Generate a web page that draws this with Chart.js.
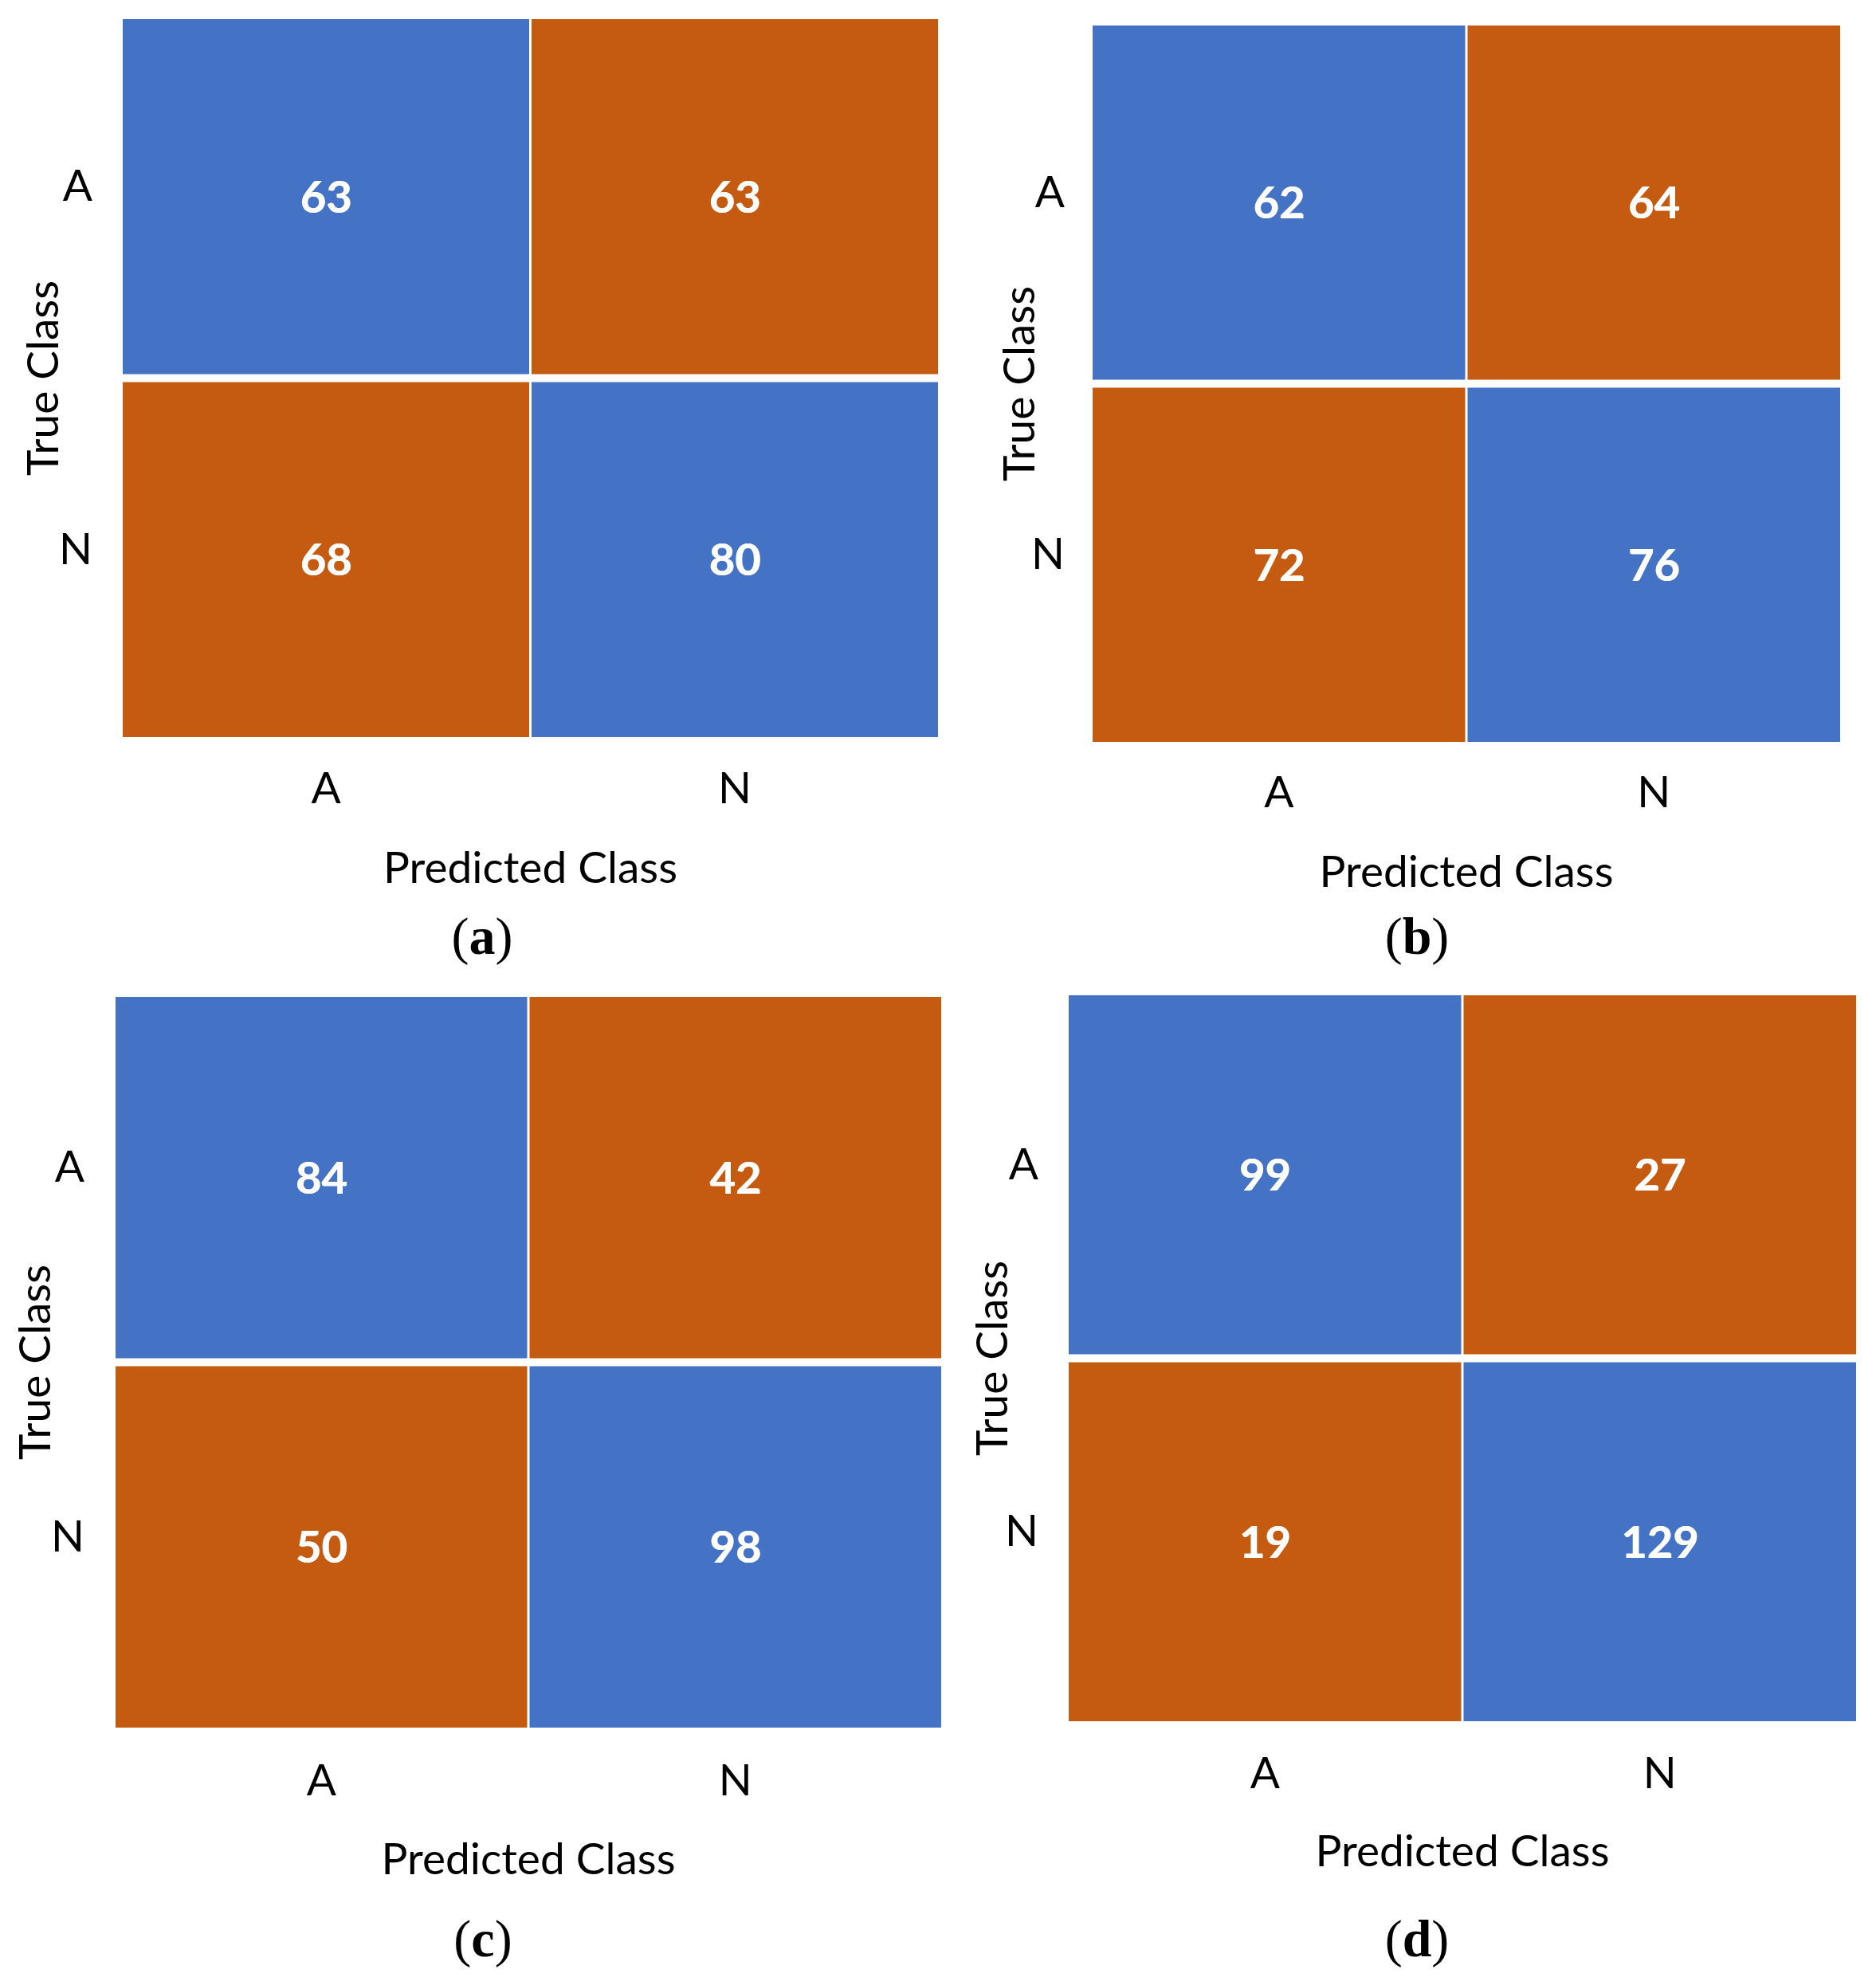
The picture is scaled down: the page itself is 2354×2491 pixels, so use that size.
<!DOCTYPE html>
<html><head><meta charset="utf-8">
<script src="https://cdn.jsdelivr.net/npm/chart.js@4.4.1/dist/chart.umd.min.js"></script>
<style>
html,body{margin:0;padding:0;background:#fff;}
body{width:2354px;height:2491px;position:relative;overflow:hidden;}
canvas{position:absolute;}
.sub{position:absolute;font-family:"Liberation Serif","Times New Roman",serif;font-size:66px;line-height:1;color:#000;transform:translateX(-50%);white-space:nowrap;}
</style></head><body>
<script>
// ---- data ----
const predictedClasses = ['A', 'N'];
const trueClasses = ['A', 'N'];
const matrixA = [[63, 63], [68, 80]];
const matrixB = [[62, 64], [72, 76]];
const matrixC = [[84, 42], [50, 98]];
const matrixD = [[99, 27], [19, 129]];
const subLetters = ['a', 'b', 'c', 'd'];
const xAxisTitle = 'Predicted Class';
const yAxisTitle = 'True Class';

// ---- style ----
const BLUE = '#4472C4';
const ORANGE = '#C55A11';
const AX_FONT = { family: 'Lato', size: 55, lineHeight: 1.2 };
const LH2 = 55 * 1.2 / 2;

// layout of each panel (canvas box + axis sizes/paddings)
const layouts = [
  { left: 0, top: 0, w: 1200, h: 1140, padTop: 19, padRight: 21.5, yw: 152.5, xh: 210, xTickMid: 990, xTitleMid: 1090, yTickPad: 36.5, yTitleMid: 55, subX: 605, subBase: 1197 },
  { left: 1200, top: 0, w: 1154, h: 1140, padTop: 27, padRight: 43.5, yw: 169.5, xh: 204, xTickMid: 995.5, xTitleMid: 1095, yTickPad: 33.5, yTitleMid: 80, subX: 1778, subBase: 1197 },
  { left: 0, top: 1200, w: 1200, h: 1180, padTop: 46, padRight: 17.5, yw: 143.5, xh: 207, xTickMid: 2235.5, xTitleMid: 2334, yTickPad: 37.5, yTitleMid: 45, subX: 606, subBase: 2455 },
  { left: 1200, top: 1200, w: 1154, h: 1180, padTop: 44, padRight: 23.5, yw: 139.5, xh: 215, xTickMid: 2226, xTitleMid: 2324, yTickPad: 36.5, yTitleMid: 46, subX: 1778, subBase: 2455 }
];
const matrices = [matrixA, matrixB, matrixC, matrixD];

const cellLabels = {
  id: 'cellLabels',
  afterDatasetsDraw(chart) {
    const ctx = chart.ctx;
    ctx.save();
    ctx.font = 'bold 56px Lato';
    ctx.fillStyle = '#ffffff';
    ctx.textAlign = 'center';
    ctx.textBaseline = 'alphabetic';
    chart.data.datasets.forEach((ds, di) => {
      chart.getDatasetMeta(di).data.forEach((el, i) => {
        const txt = String(ds.counts[i]);
        const m = ctx.measureText(txt);
        const cy = (el.y + el.base) / 2;
        const y = cy + (m.actualBoundingBoxAscent - m.actualBoundingBoxDescent) / 2;
        ctx.fillText(txt, el.x, y);
        ctx.fillText(txt, el.x + 0.8, y);
      });
    });
    ctx.restore();
  }
};

matrices.forEach((mat, p) => {
  const L = layouts[p];
  const cv = document.createElement('canvas');
  cv.width = L.w; cv.height = L.h;
  cv.style.left = L.left + 'px'; cv.style.top = L.top + 'px';
  cv.style.width = L.w + 'px'; cv.style.height = L.h + 'px';
  document.body.appendChild(cv);

  const n = trueClasses.length;
  const areaBottom = L.top + L.h - L.xh;
  const xTickPad = L.xTickMid - areaBottom - LH2;
  const xTitlePad = (L.top + L.h) - LH2 - L.xTitleMid;
  const yTitlePad = L.yTitleMid - LH2;

  const datasets = trueClasses.map((t, r) => ({
    label: t,
    counts: mat[r],
    data: predictedClasses.map(() => [n - r - 1, n - r]),
    backgroundColor: predictedClasses.map((pc, c) => c === r ? BLUE : ORANGE),
    borderColor: '#ffffff',
    borderWidth: { top: 5, bottom: 5, left: 1.5, right: 1.5 },
    borderSkipped: false,
    inflateAmount: 0,
    grouped: false,
    barPercentage: 1,
    categoryPercentage: 1
  }));

  const zeroPad = s => { s.paddingTop = 0; s.paddingBottom = 0; s.paddingLeft = 0; s.paddingRight = 0; };

  new Chart(cv, {
    type: 'bar',
    data: { labels: predictedClasses, datasets },
    plugins: [cellLabels],
    options: {
      responsive: false,
      devicePixelRatio: 1,
      animation: false,
      events: [],
      layout: { padding: { top: L.padTop, right: L.padRight, left: 0, bottom: 0 } },
      plugins: { legend: { display: false }, tooltip: { enabled: false }, title: { display: false } },
      scales: {
        x: {
          type: 'category',
          offset: true,
          grid: { display: false, drawTicks: false },
          border: { display: false },
          ticks: { color: '#000', font: AX_FONT, padding: xTickPad, maxRotation: 0 },
          title: { display: true, text: xAxisTitle, color: '#000', font: AX_FONT, padding: { top: 0, bottom: xTitlePad } },
          afterFit: s => { s.height = L.xh; zeroPad(s); }
        },
        y: {
          type: 'linear',
          min: 0, max: n,
          grid: { display: false, drawTicks: false },
          border: { display: false },
          afterBuildTicks: s => { s.ticks = trueClasses.map((t, i) => ({ value: n - i - 0.5 })); },
          ticks: {
            color: '#000', font: AX_FONT, padding: L.yTickPad, labelOffset: -12,
            callback: v => trueClasses[n - 1 - Math.floor(v)]
          },
          title: { display: true, text: yAxisTitle, color: '#000', font: AX_FONT, padding: { top: yTitlePad, bottom: 0 } },
          afterFit: s => { s.width = L.yw; zeroPad(s); }
        }
      }
    }
  });

  const sub = document.createElement('div');
  sub.className = 'sub';
  sub.style.left = L.subX + 'px';
  sub.style.top = (L.subBase - 55) + 'px';
  sub.innerHTML = '(<b>' + subLetters[p] + '</b>)';
  document.body.appendChild(sub);
});
</script>
</body></html>
